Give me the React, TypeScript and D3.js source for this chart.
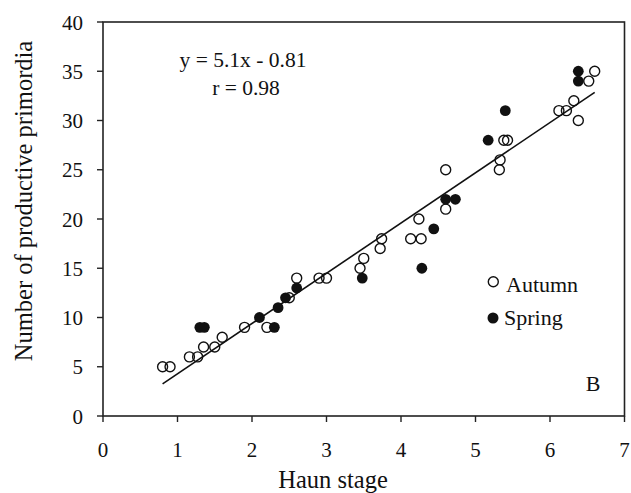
import React from "react";
import * as d3 from "d3";

// Autumn (open) and Spring (filled) observations: [Haun stage, primordia]
const autumn: [number, number][] = [
  [0.8, 5], [0.9, 5], [1.16, 6], [1.27, 6], [1.35, 7], [1.5, 7], [1.6, 8],
  [1.9, 9], [2.2, 9], [2.5, 12], [2.6, 14], [2.9, 14], [3.0, 14], [3.45, 15],
  [3.5, 16], [3.72, 17], [3.74, 18], [4.13, 18], [4.27, 18], [4.24, 20],
  [4.6, 21], [4.6, 25], [5.32, 25], [5.33, 26], [5.38, 28], [5.43, 28],
  [6.12, 31], [6.22, 31], [6.32, 32], [6.38, 30], [6.52, 34], [6.6, 35],
];
const spring: [number, number][] = [
  [1.3, 9], [1.36, 9], [2.1, 10], [2.3, 9], [2.35, 11], [2.45, 12], [2.6, 13],
  [3.48, 14], [4.28, 15], [4.44, 19], [4.6, 22], [4.73, 22], [5.17, 28],
  [5.4, 31], [6.38, 34], [6.38, 35],
];
const slope = 5.1;
const intercept = -0.81;
const fitRange = [0.8, 6.6];
const xTicks = [0, 1, 2, 3, 4, 5, 6, 7];
const yTicks = [0, 5, 10, 15, 20, 25, 30, 35, 40];

const W = 631;
const H = 493;
const m = { left: 103, right: 6.5, top: 22, bottom: 77 };
const font = "'Liberation Serif', 'Times New Roman', serif";

export default function App() {
  const x = d3.scaleLinear().domain([0, 7]).range([m.left, W - m.right]);
  const y = d3.scaleLinear().domain([0, 40]).range([H - m.bottom, m.top]);
  const line = d3
    .line<number>()
    .x((d) => x(d))
    .y((d) => y(slope * d + intercept));

  return (
    <svg
      width={W}
      height={H}
      style={{ position: "absolute", left: 0, top: 0, background: "#fff" }}
      fontFamily={font}
      fill="#111"
    >
      <rect
        x={x(0)}
        y={y(40)}
        width={x(7) - x(0)}
        height={y(0) - y(40)}
        fill="none"
        stroke="#222"
        strokeWidth={1.6}
      />
      {yTicks.map((t) => (
        <g key={"y" + t}>
          <line x1={x(0) - 6} x2={x(0)} y1={y(t)} y2={y(t)} stroke="#222" strokeWidth={1.4} />
          <text x={x(0) - 20} y={y(t)} dy="0.36em" textAnchor="end" fontSize={21}>
            {t}
          </text>
        </g>
      ))}
      {xTicks.map((t) => (
        <g key={"x" + t}>
          <line x1={x(t)} x2={x(t)} y1={y(0)} y2={y(0) + 6} stroke="#222" strokeWidth={1.4} />
          <text x={x(t)} y={457} textAnchor="middle" fontSize={21}>
            {t}
          </text>
        </g>
      ))}
      <text x={333} y={488} textAnchor="middle" fontSize={24.5}>
        Haun stage
      </text>
      <text
        transform="translate(32, 201) rotate(-90)"
        textAnchor="middle"
        fontSize={24.5}
      >
        Number of productive primordia
      </text>

      <path d={line(fitRange) || ""} stroke="#111" strokeWidth={1.6} fill="none" />

      {autumn.map((d, i) => (
        <circle key={"a" + i} cx={x(d[0])} cy={y(d[1])} r={5} fill="none" stroke="#111" strokeWidth={1.4} />
      ))}
      {spring.map((d, i) => (
        <circle key={"s" + i} cx={x(d[0])} cy={y(d[1])} r={5.4} fill="#111" />
      ))}

      <text x={243} y={67} textAnchor="middle" fontSize={21.5}>
        y = 5.1x - 0.81
      </text>
      <text x={246} y={95} textAnchor="middle" fontSize={21.5}>
        r = 0.98
      </text>

      <circle cx={493.3} cy={281.7} r={5} fill="none" stroke="#111" strokeWidth={1.4} />
      <text x={506} y={292} fontSize={22}>Autumn</text>
      <circle cx={493} cy={318} r={5.5} fill="#111" />
      <text x={504} y={325} fontSize={22}>Spring</text>
      <text x={593} y={391} textAnchor="middle" fontSize={22}>B</text>
    </svg>
  );
}
